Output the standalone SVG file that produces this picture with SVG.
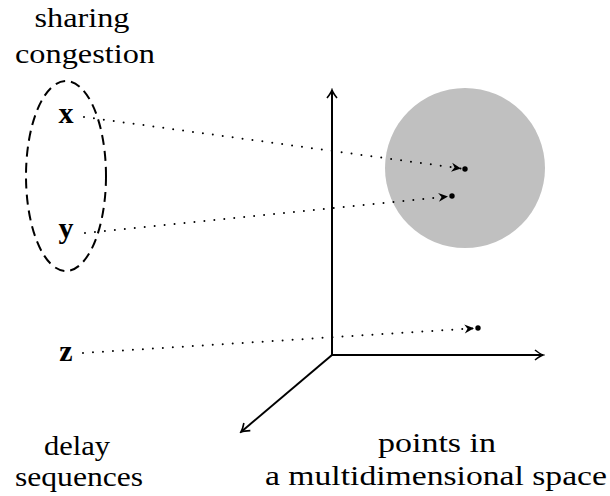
<svg xmlns="http://www.w3.org/2000/svg" width="610" height="496" viewBox="0 0 610 496">
<defs>
<style>
.lbl{font-family:"Liberation Serif","DejaVu Serif",serif;font-size:27px;fill:#000;text-anchor:middle}
.var{font-family:"Liberation Serif","DejaVu Serif",serif;font-size:30px;font-weight:bold;fill:#000;text-anchor:middle}
.axis{stroke:#000;stroke-width:2;fill:none}
.dot{stroke:#000;stroke-width:2;fill:none;stroke-dasharray:0 10;stroke-linecap:round}
</style>
<marker id="ax" viewBox="-10 -6 12 12" refX="0" refY="0" markerWidth="12" markerHeight="12" markerUnits="userSpaceOnUse" orient="auto">
<path d="M-8,-5 Q-3,-1 0,0 Q-3,1 -8,5" fill="none" stroke="#000" stroke-width="1.6"/>
</marker>
<marker id="st" viewBox="-11 -6 12 12" refX="0" refY="0" markerWidth="12" markerHeight="12" markerUnits="userSpaceOnUse" orient="auto">
<path d="M0,0 L-9.5,-4.5 L-6.5,0 L-9.5,4.5 Z" fill="#000"/>
</marker>
</defs>
<g id="circle-region"><circle cx="465" cy="168" r="80" fill="#c0c0c0"/></g>
<g id="axes">
<line class="axis" x1="332" y1="355" x2="332" y2="90" marker-end="url(#ax)"/>
<line class="axis" x1="332" y1="355" x2="543" y2="355" marker-end="url(#ax)"/>
<line class="axis" x1="332" y1="355" x2="241" y2="432" marker-end="url(#ax)"/>
</g>
<g id="group-ellipse"><ellipse cx="66" cy="176" rx="40" ry="95" fill="none" stroke="#000" stroke-width="2" stroke-dasharray="10 6"/></g>
<g id="node-x"><text class="var" x="66" y="123">x</text></g>
<g id="node-y"><text class="var" x="66" y="238">y</text></g>
<g id="node-z"><text class="var" x="66" y="361">z</text></g>
<g id="point-x"><circle cx="465" cy="169" r="2.7" fill="#000"/></g>
<g id="point-y"><circle cx="452" cy="196" r="2.7" fill="#000"/></g>
<g id="point-z"><circle cx="478" cy="328" r="2.7" fill="#000"/></g>
<g id="connectors">
<line class="dot" x1="84" y1="117" x2="461" y2="168.5" marker-end="url(#st)"/>
<line class="dot" x1="85" y1="233" x2="448" y2="196.4" marker-end="url(#st)"/>
<line class="dot" x1="83" y1="353" x2="474" y2="328.3" marker-end="url(#st)"/>
</g>
<g id="labels">
<text class="lbl" x="82" y="27" textLength="95" lengthAdjust="spacingAndGlyphs">sharing</text>
<text class="lbl" x="85" y="63" textLength="140" lengthAdjust="spacingAndGlyphs">congestion</text>
<text class="lbl" x="77" y="455" textLength="66" lengthAdjust="spacingAndGlyphs">delay</text>
<text class="lbl" x="79" y="486" textLength="128" lengthAdjust="spacingAndGlyphs">sequences</text>
<text class="lbl" x="437" y="452" textLength="118" lengthAdjust="spacingAndGlyphs">points in</text>
<text class="lbl" x="436" y="485" textLength="342" lengthAdjust="spacingAndGlyphs">a multidimensional space</text>
</g>
</svg>
